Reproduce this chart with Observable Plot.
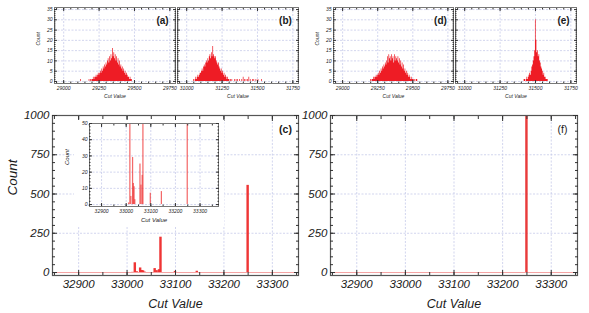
<!DOCTYPE html>
<html><head><meta charset="utf-8">
<script src="https://cdn.jsdelivr.net/npm/d3@7"></script>
<script src="https://cdn.jsdelivr.net/npm/@observablehq/plot@0.6"></script>
<style>
body{margin:0;background:#fff;}
#fig{position:relative;width:589px;height:313px;overflow:hidden;background:#fff;font-family:"Liberation Sans",Arial,sans-serif;}
#fig svg{position:absolute;}
#insetbg{position:absolute;left:74px;top:120px;width:150px;height:106px;background:#fff;}
</style></head><body><div id="fig"></div>
<script>
// ---------- data ----------
const binWidth = 5;
// (a) histogram, bins of 5 starting at startA
const startA = 29120;
const countsA = [1,0,0,0,0,0,0,0,0,0, 0,0,1,0,1,0,
  1,1,2,1,2,2,3,2,3,4, 3,4,5,4,6,5,7,6,8,7, 9,8,10,11,9,12,10,13,11,16,
  12,14,11,13,10,12,9,11,8,10, 7,8,6,7,5,6,4,5,3,4, 3,2,2,1,2,1,1];
// (b)
const startB = 31050;
const countsB = [1,0,1,2,1,2,3,2,3,4, 4,5,6,5,7,8,7,9,10,9, 11,10,12,13,11,14,12,17,13,12,
  11,12,10,9,8,9,7,6,5,6, 4,5,3,4,2,3,2,1,2,1,
  1,0,1,0,1,0,0,0,1,0, 1,0,1,0,0,1,0,0,1,0, 2,0,1,0,1,0,1,0,2,0, 1,0,0,1,0,1,0,0,1,0, 0,1,0,0,0,0,1,0];
// (d)
const startD = 29200;
const countsD = [1,0,1,1,2,1,2,2,3,2, 3,4,3,5,4,6,5,7,6,8, 7,9,8,10,12,9,13,11,12,10,
  13,11,12,9,13,10,12,11,10,12, 9,11,8,10,7,9,6,8,5,6, 4,5,3,4,2,3,2,1,2,1, 1,1,0,1,0,1,1];
// (e)
const startE = 31420;
const countsE = [1,1,0,1,2,1,2,3,4,3, 5,7,8,10,12,15,30,20,14,15, 12,13,10,9,7,6,5,3,4,2, 2,1,1,1];
// (c) and inset
const cutC   = [33012, 33017, 33021, 33028, 33031, 33034, 33037, 33058, 33062, 33067, 33070, 33100, 33145, 33250];
const countC = [1,     62,    5,     29,    13,    11,    3,     25,    12,    18,    225,   7,     8,     555];
// (f)
const cutF = [33250];
const countF = [1000];

// tick labels
const ticksLeftSmall = [29000, 29250, 29500, 29750];
const ticksRightSmall = [31000, 31250, 31500, 31750];
const ticksSmallY = [0, 5, 10, 15, 20, 25, 30, 35];
const ticksBig = [32900, 33000, 33100, 33200, 33300];
const ticksBigY = [0, 250, 500, 750, 1000];
const ticksInsetY = [0, 10, 20, 30, 40, 50];
const panelLabels = ["(a)", "(b)", "(c)", "(d)", "(e)", "(f)"];
const xTitle = "Cut Value", yTitle = "Count";

// ---------- helpers ----------
const RED = "#ee1c25";
const GRID = "#bfc3e6";
const fig = document.getElementById("fig");
// step outline of a histogram: each bin start with its count, then a closing zero
const histSteps = (start, counts) => [...counts.map((c, i) => ({x: start + i*binWidth, c})), {x: start + counts.length*binWidth, c: 0}];
const spikes = (cuts, counts) => cuts.map((x, i) => ({x1: x - binWidth/2, x2: x + binWidth/2, c: counts[i]}));

function panel(o) {
  const w = o.x1 - o.x0, h = o.y1 - o.y0;
  const fmt = d => String(d);
  const tc = "#333";
  const marks = [
    Plot.gridX(o.xTicks, {stroke: GRID, strokeOpacity: 1, strokeWidth: 0.7, strokeDasharray: "2,1.5"}),
    Plot.gridY(o.yTicks, {stroke: GRID, strokeOpacity: 1, strokeWidth: 0.7, strokeDasharray: "2,1.5"}),
    ...o.marks,
    Plot.frame({stroke: o.frameColor || "#555", strokeWidth: o.frameWidth || 1}),
    Plot.axisX(o.xMinor, {anchor: "bottom", tickSize: -o.minorLen, fill: "none", stroke: tc, label: null}),
    Plot.axisX(o.xMinor, {anchor: "top", tickSize: -o.minorLen, fill: "none", stroke: tc, label: null}),
    Plot.axisY(o.yMinor, {anchor: "left", tickSize: -o.minorLen, fill: "none", stroke: tc, label: null}),
    Plot.axisY(o.yMinor, {anchor: "right", tickSize: -o.minorLen, fill: "none", stroke: tc, label: null}),
    Plot.axisX(o.xTicks, {anchor: "bottom", tickSize: -o.majorLen, tickPadding: o.majorLen + o.xGap, tickFormat: fmt, fontSize: o.tickFont, stroke: tc, label: null}),
    Plot.axisX(o.xTicks, {anchor: "top", tickSize: -o.majorLen, fill: "none", stroke: tc, label: null}),
    Plot.axisY(o.yTicks, {anchor: "left", tickSize: -o.majorLen, tickPadding: o.majorLen + o.yGap, tickFormat: fmt, fontSize: o.tickFont, stroke: tc, label: null, fill: o.yLabels ? "currentColor" : "none"}),
    Plot.axisY(o.yTicks, {anchor: "right", tickSize: -o.majorLen, fill: "none", stroke: tc, label: null}),
    Plot.text([xTitle], {frameAnchor: "bottom", dy: o.xTitleDy, fontSize: o.titleFont, lineAnchor: "middle"}),
  ];
  if (o.yTitle) marks.push(Plot.text([yTitle], {frameAnchor: "left", dx: o.yTitleDx, rotate: -90, fontSize: o.yTitleFont || o.titleFont, lineAnchor: "middle"}));
  if (o.tag) marks.push(Plot.text([o.tag], {frameAnchor: "top-right", dx: o.tagDx, dy: o.tagDy, fontSize: o.tagFont, fontWeight: o.tagBold ? "bold" : "normal", fontStyle: "normal", textAnchor: "middle", lineAnchor: "middle"}));
  const svg = Plot.plot({
    width: w, height: h, margin: 0,
    x: {domain: o.xDomain}, y: {domain: o.yDomain},
    style: {background: "transparent", overflow: "visible", fontFamily: "'Liberation Sans', Arial, sans-serif", fontStyle: "italic", color: "#1a1a1a"},
    marks
  });
  svg.style.left = o.x0 + "px";
  svg.style.top = o.y0 + "px";
  fig.appendChild(svg);
}

const smallCommon = {y0: 7, y1: 83, yDomain: [-1, 36], yTicks: ticksSmallY, yMinor: d3.range(0, 36, 1),
  minorLen: 1.5, majorLen: 3, xGap: 3, yGap: 2, tickFont: 5, titleFont: 5, xTitleDy: 13, yTitleDx: -16,
  tagDx: -13, tagDy: 13, tagFont: 10, tagBold: true, frameColor: "#777"};
const histMark = (data) => Plot.areaY(data, {x: "x", y1: 0, y2: "c", curve: "step-after", fill: RED});

panel({...smallCommon, x0: 54, x1: 175, xDomain: [28935, 29790], xTicks: ticksLeftSmall, xMinor: d3.range(28950, 29800, 50),
  yLabels: true, yTitle: true, tag: panelLabels[0], marks: [histMark(histSteps(startA, countsA))]});
panel({...smallCommon, x0: 177, x1: 298, xDomain: [30935, 31790], xTicks: ticksRightSmall, xMinor: d3.range(30950, 31800, 50),
  yLabels: false, yTitle: false, tag: panelLabels[1], marks: [histMark(histSteps(startB, countsB))]});
panel({...smallCommon, x0: 333, x1: 453, xDomain: [28935, 29790], xTicks: ticksLeftSmall, xMinor: d3.range(28950, 29800, 50),
  yLabels: true, yTitle: true, tag: panelLabels[3], marks: [histMark(histSteps(startD, countsD))]});
panel({...smallCommon, x0: 455, x1: 576, xDomain: [30935, 31790], xTicks: ticksRightSmall, xMinor: d3.range(30950, 31800, 50),
  yLabels: false, yTitle: false, tag: panelLabels[4], marks: [histMark(histSteps(startE, countsE))]});

const bigCommon = {y0: 115, y1: 275, xDomain: [32846, 33354], yDomain: [-19, 1000], xTicks: ticksBig, xMinor: d3.range(32850, 33351, 50),
  yTicks: ticksBigY, yMinor: d3.range(0, 1001, 50), minorLen: 3, majorLen: 5, xGap: 4, yGap: 3, tickFont: 11.5,
  titleFont: 12.5, xTitleDy: 28, yTitleDx: -40, yTitleFont: 13.5, tagDx: -13, tagDy: 14, tagFont: 10.5, frameColor: "#555", frameWidth: 1.2};
const baseline = Plot.ruleY([0], {stroke: "#f5a3a3", strokeWidth: 1});

panel({...bigCommon, x0: 52, x1: 298, yLabels: true, yTitle: true, tag: panelLabels[2], tagBold: true,
  marks: [baseline, Plot.rect(spikes(cutC, countC), {x1: "x1", x2: "x2", y1: 0, y2: "c", fill: "#ee2a2a", fillOpacity: 0.95})]});
panel({...bigCommon, x0: 330, x1: 577, yLabels: true, yTitle: false, tag: panelLabels[5], tagBold: false, tagDx: -15,
  marks: [baseline, Plot.rect(spikes(cutF, countF), {x1: "x1", x2: "x2", y1: 0, y2: "c", fill: "#e93b3b", clip: true})]});

// inset of (c)
const bg = document.createElement("div"); bg.id = "insetbg"; fig.appendChild(bg);
panel({x0: 89, x1: 218, y0: 123, y1: 206, xDomain: [32851, 33375], yDomain: [-1.2, 50], xTicks: ticksBig, xMinor: d3.range(32850, 33376, 50),
  yTicks: ticksInsetY, yMinor: d3.range(0, 51, 2), minorLen: 1.5, majorLen: 3, xGap: 3, yGap: 2, tickFont: 5,
  titleFont: 6, xTitleDy: 14, yTitleDx: -22, yLabels: true, yTitle: true, frameColor: "#777",
  marks: [Plot.rect(spikes(cutC, countC), {x1: "x1", x2: "x2", y1: 0, y2: "c", fill: "#ee2a2a", fillOpacity: 0.7, clip: true})]});
</script></body></html>
